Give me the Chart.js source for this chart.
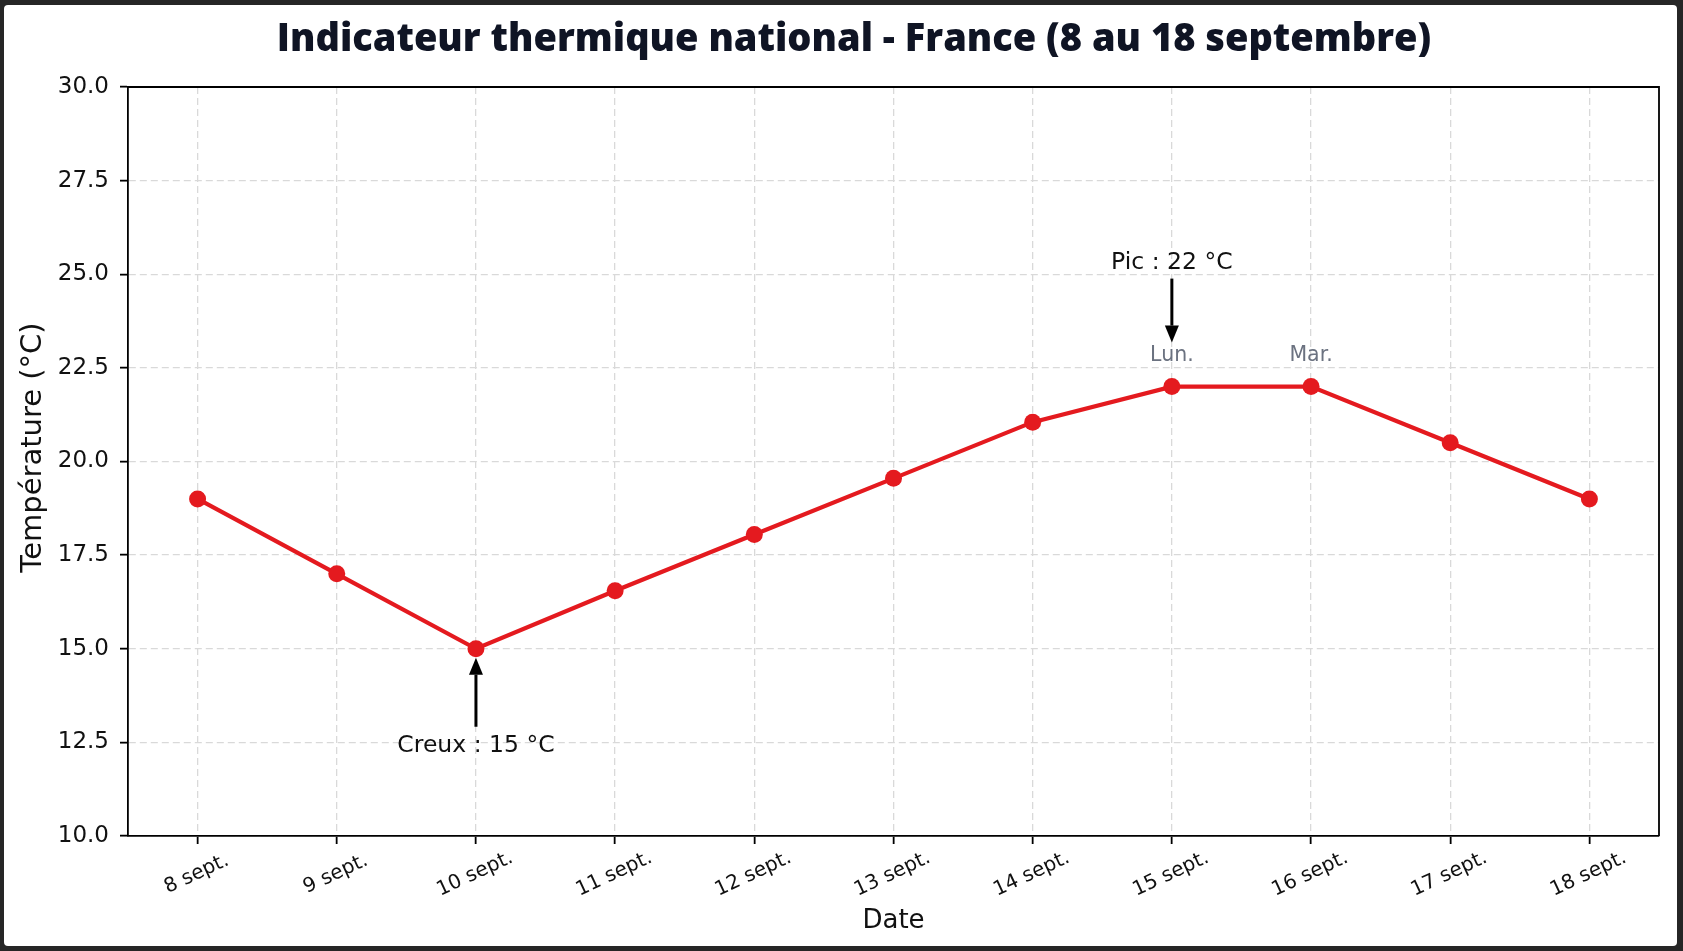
<!DOCTYPE html>
<html><head><meta charset="utf-8">
<script src="https://cdn.jsdelivr.net/npm/chart.js@4.4.1/dist/chart.umd.min.js"></script>
<style>html,body{margin:0;padding:0;background:#262626;overflow:hidden}#wrap{position:relative;width:1683px;height:951px}</style>
</head><body><div id="wrap"><canvas id="c" width="1683" height="951"></canvas></div>
<script>
const chartTitle = 'Indicateur thermique national - France (8 au 18 septembre)';
const yAxisTitle = 'Température (°C)';
const xAxisTitle = 'Date';
const categories = ['8 sept.', '9 sept.', '10 sept.', '11 sept.', '12 sept.', '13 sept.', '14 sept.', '15 sept.', '16 sept.', '17 sept.', '18 sept.'];
const temperatures = [19, 17, 15, 16.55, 18.05, 19.55, 21.05, 22, 22, 20.5, 19];
const dayNames = ['', '', '', '', '', '', '', 'Lun.', 'Mar.', '', ''];
const peakLabel = { index: 7, text: 'Pic : 22 °C' };
const troughLabel = { index: 2, text: 'Creux : 15 °C' };
const yMin = 10, yMax = 30, yStep = 2.5;

const TXT = '#111111';
const RED = '#e41a1f';
const FONT = "'DejaVu Sans', sans-serif";

function drawArrow(ctx, x, yFrom, yTo) {
  const dir = yTo > yFrom ? 1 : -1;
  const headLen = 17, headW = 7;
  ctx.save();
  ctx.strokeStyle = '#000'; ctx.fillStyle = '#000'; ctx.lineWidth = 3;
  ctx.beginPath(); ctx.moveTo(x, yFrom); ctx.lineTo(x, yTo - dir * headLen); ctx.stroke();
  ctx.beginPath(); ctx.moveTo(x, yTo); ctx.lineTo(x - headW, yTo - dir * headLen); ctx.lineTo(x + headW, yTo - dir * headLen); ctx.closePath(); ctx.fill();
  ctx.restore();
}

const framePlugin = {
  id: 'frame',
  beforeDraw(chart) {
    const ctx = chart.ctx; const w = chart.width, h = chart.height;
    ctx.save();
    ctx.fillStyle = '#262626'; ctx.fillRect(0, 0, w, h);
    ctx.fillStyle = '#ffffff';
    ctx.beginPath();
    if (ctx.roundRect) ctx.roundRect(4, 5, w - 10, h - 10, 4); else ctx.rect(4, 5, w - 10, h - 10);
    ctx.fill();
    // title
    ctx.fillStyle = '#0f1424';
    ctx.font = "800 38px 'Open Sans', sans-serif";
    ctx.textAlign = 'center'; ctx.textBaseline = 'alphabetic';
    ctx.fillText(chartTitle, 854, 51);
    ctx.restore();
  },
  afterDraw(chart) {
    const ctx = chart.ctx; const a = chart.chartArea;
    const xs = chart.scales.x, ys = chart.scales.y;
    ctx.save();
    // top & right spines
    ctx.strokeStyle = '#000'; ctx.lineWidth = 1.8;
    ctx.beginPath(); ctx.moveTo(a.left, a.top); ctx.lineTo(a.right, a.top); ctx.lineTo(a.right, a.bottom); ctx.stroke();
    // y axis title
    ctx.fillStyle = TXT; ctx.font = '29px ' + FONT; ctx.textAlign = 'center'; ctx.textBaseline = 'middle';
    ctx.save(); ctx.translate(33, (a.top + a.bottom) / 2 - 14); ctx.rotate(-Math.PI / 2);
    ctx.fillText(yAxisTitle, 0, 0); ctx.restore();
    // x tick labels (rotated)
    ctx.font = '20px ' + FONT;
    categories.forEach((c, i) => {
      const px = xs.getPixelForValue(i);
      ctx.save(); ctx.translate(px - 1, a.bottom + 38); ctx.rotate(-25 * Math.PI / 180);
      ctx.fillText(c, 0, 0); ctx.restore();
    });
    // day names
    ctx.fillStyle = '#6b7280'; ctx.font = '20.5px ' + FONT;
    dayNames.forEach((d, i) => {
      if (!d) return;
      ctx.fillText(d, xs.getPixelForValue(i), ys.getPixelForValue(temperatures[i]) - 31);
    });
    // peak annotation
    ctx.fillStyle = TXT; ctx.font = '23.5px ' + FONT;
    let px = xs.getPixelForValue(peakLabel.index), py = ys.getPixelForValue(temperatures[peakLabel.index]);
    ctx.fillText(peakLabel.text, px, py - 124);
    drawArrow(ctx, px, py - 108, py - 44);
    // trough annotation
    px = xs.getPixelForValue(troughLabel.index); py = ys.getPixelForValue(temperatures[troughLabel.index]);
    ctx.fillText(troughLabel.text, px, py + 97);
    drawArrow(ctx, px, py + 78, py + 9);
    ctx.restore();
  }
};

new Chart(document.getElementById('c'), {
  type: 'line',
  data: {
    labels: categories,
    datasets: [{
      data: temperatures,
      borderColor: RED, backgroundColor: RED,
      borderWidth: 4.2, pointRadius: 8.5, pointHoverRadius: 8.5,
      pointBackgroundColor: RED, pointBorderWidth: 0, tension: 0, clip: false
    }]
  },
  options: {
    responsive: false, animation: false, devicePixelRatio: 1,
    layout: { padding: { top: 87, left: 0, right: 24, bottom: 0 } },
    plugins: {
      legend: { display: false }, tooltip: { enabled: false },
      title: { display: false }
    },
    scales: {
      x: {
        type: 'category', offset: true,
        grid: { color: '#d9d9d9', lineWidth: 1.3, tickColor: '#000', tickLength: 8, tickWidth: 1.8, offset: false },
        border: { display: true, color: '#000', width: 1.8, dash: [7, 4] },
        ticks: { display: false },
        title: { display: true, text: xAxisTitle, color: TXT, font: { family: FONT, size: 26 }, padding: { top: 0, bottom: 14 } },
        afterFit: s => { s.height = 115; }
      },
      y: {
        min: yMin, max: yMax,
        grid: { color: '#d9d9d9', lineWidth: 1.3, tickColor: '#000', tickLength: 8, tickWidth: 1.8 },
        border: { display: true, color: '#000', width: 1.8, dash: [7, 4] },
        ticks: { stepSize: yStep, color: TXT, font: { family: FONT, size: 23 }, padding: 11, callback: v => Number(v).toFixed(1) },
        title: { display: false },
        afterFit: s => { s.width = 128; }
      }
    }
  },
  plugins: [framePlugin]
});
</script></body></html>
